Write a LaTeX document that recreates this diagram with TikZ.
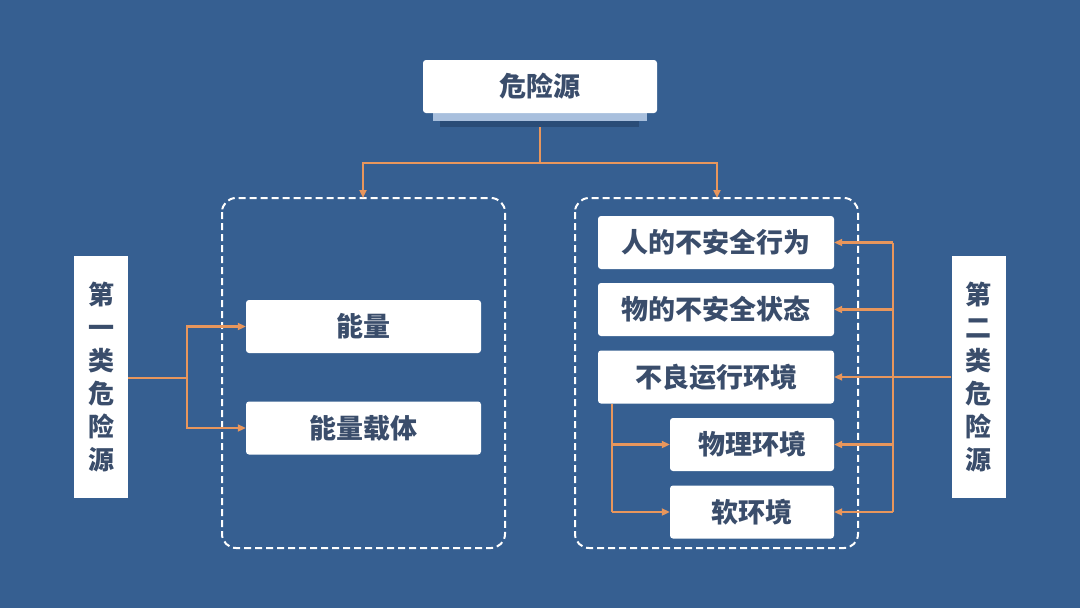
\documentclass[tikz,border=0pt]{standalone}
\usepackage{fontspec}
\setmainfont{Noto Sans CJK SC}
\usetikzlibrary{arrows.meta}
\definecolor{bg}{HTML}{365F91}
\definecolor{txt}{HTML}{3A4D6B}
\definecolor{org}{HTML}{E8965C}
\definecolor{shlight}{HTML}{A8BFDD}
\definecolor{shdark}{HTML}{2A4C77}
\tikzset{
  wbox/.style={fill=white, rounded corners=3pt, text=txt, font=\fontsize{27}{30}\selectfont\bfseries, inner sep=0pt},
  dbox/.style={draw=white, dashed, dash pattern=on 7pt off 4pt, line width=2pt, rounded corners=14pt},
  conn/.style={draw=org, line width=2.4pt},
  arr/.style={conn, -{Triangle[length=8pt,width=7pt]}},
}
\begin{document}
\begin{tikzpicture}[x=1pt,y=-1pt]
\fill[bg] (0,0) rectangle (1080,608);
\useasboundingbox (0,0) rectangle (1080,608);
% top box with shadow
\fill[shdark] (440,118) rectangle (639,127);
\fill[shlight] (433,108) rectangle (647,121);
\node[wbox, minimum width=234pt, minimum height=53pt] (top) at (540,86.5) {危险源};
% dashed containers
\draw[dbox] (222,198) rectangle (505,548);
\draw[dbox] (575,198) rectangle (858,548);
\coordinate (lt) at (363,198);
\coordinate (rt) at (717,198);
\coordinate (j) at (540,163);
% top connectors
\draw[conn] (top.south |- 0,127) -- (j);
\draw[arr] (j) -| (lt);
\draw[arr] (j) -| (rt);
% left
\node[wbox, rounded corners=0pt, minimum width=54pt, minimum height=242pt, align=center, font=\fontsize{26}{33}\selectfont\bfseries] (c1) at (101,377) {第\\一\\类\\危\\险\\源};
\node[wbox, minimum width=235pt, minimum height=53pt] (e1) at (363.5,326.5) {能量};
\node[wbox, minimum width=235pt, minimum height=53pt] (e2) at (363.5,428) {能量载体};
\coordinate (lj) at (187,378);
\draw[conn] (c1.east |- lj) -- (lj);
\draw[arr] (lj) |- (e1.west);
\draw[arr] (lj) |- (e2.west);
% right
\node[wbox, rounded corners=0pt, minimum width=54pt, minimum height=242pt, align=center, font=\fontsize{26}{33}\selectfont\bfseries] (c2) at (978.5,377) {第\\二\\类\\危\\险\\源};
\node[wbox, minimum width=236pt, minimum height=53pt] (r1) at (716,242.5) {人的不安全行为};
\node[wbox, minimum width=236pt, minimum height=53pt] (r2) at (716,309.5) {物的不安全状态};
\node[wbox, minimum width=236pt, minimum height=53pt] (r3) at (716,377) {不良运行环境};
\node[wbox, minimum width=164pt, minimum height=53pt] (r4) at (752,444.5) {物理环境};
\node[wbox, minimum width=164pt, minimum height=53pt] (r5) at (752,512) {软环境};
\coordinate (rj) at (893,377);
\coordinate (rjt) at (893,242.5);
\coordinate (rjb) at (893,512);
\draw[conn] (c2.west |- rj) -- (rj);
\draw[conn] (rjt) -- (rjb);
\foreach \n in {r1,r2,r3,r4,r5}{
  \draw[arr] (rjt |- \n.east) -- (\n.east);
}
% sub connectors
\coordinate (sj) at (612,403);
\draw[conn] (r3.south -| sj) -- (sj |- r5.west);
\draw[arr] (sj |- r4.west) -- (r4.west);
\draw[arr] (sj |- r5.west) -- (r5.west);
\end{tikzpicture}
\end{document}
